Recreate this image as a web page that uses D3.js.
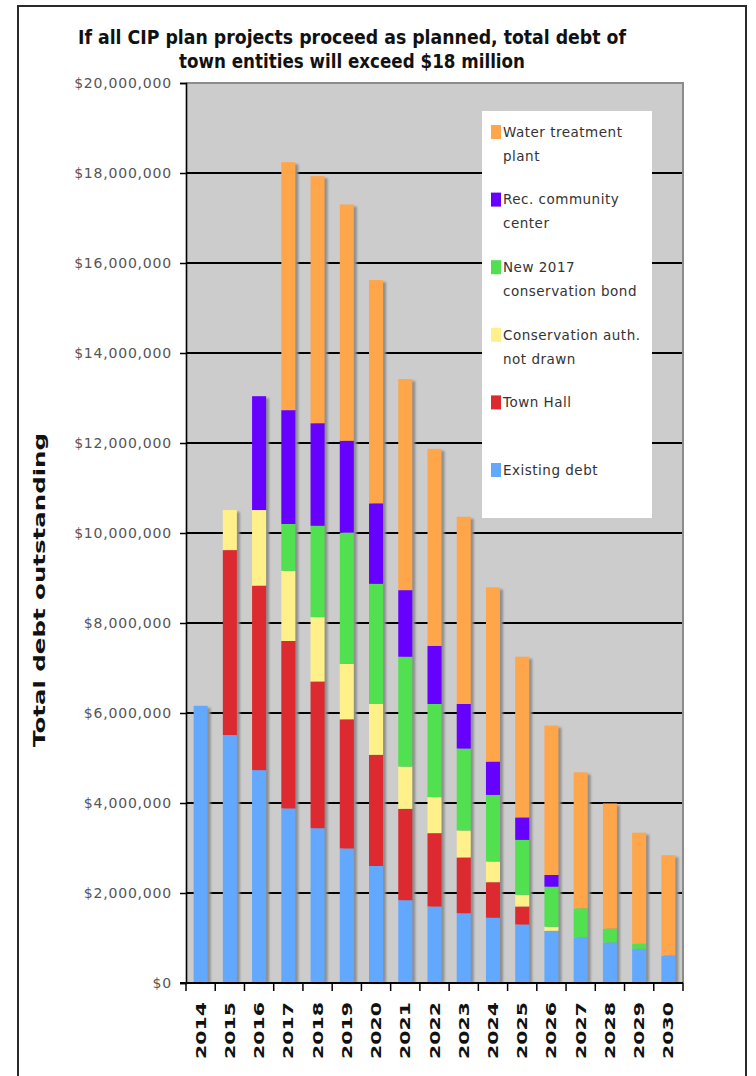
<!DOCTYPE html>
<html>
<head>
<meta charset="utf-8">
<script src="https://cdn.jsdelivr.net/npm/d3@7/dist/d3.min.js"></script>
<style>
  body { margin: 0; background: #fff; }
  svg { display: block; }
</style>
</head>
<body>
<svg id="chart" width="756" height="1076"></svg>
<script>
// Debt outstanding by year, in millions of dollars
const years = [2014, 2015, 2016, 2017, 2018, 2019, 2020, 2021, 2022, 2023, 2024, 2025, 2026, 2027, 2028, 2029, 2030];
const existingDebt      = [6.16, 5.51, 4.73, 3.88, 3.44, 2.99, 2.60, 1.84, 1.70, 1.55, 1.45, 1.30, 1.16, 1.01, 0.90, 0.76, 0.61];
const townHall          = [0, 4.11, 4.10, 3.72, 3.26, 2.87, 2.47, 2.03, 1.63, 1.24, 0.79, 0.40, 0, 0, 0, 0, 0];
const conservationAuth  = [0, 0.89, 1.68, 1.56, 1.43, 1.23, 1.13, 0.94, 0.80, 0.60, 0.46, 0.26, 0.09, 0, 0, 0, 0];
const conservationBond  = [0, 0, 0, 1.04, 2.03, 2.92, 2.67, 2.44, 2.07, 1.82, 1.48, 1.22, 0.89, 0.65, 0.31, 0.11, 0];
const recCenter         = [0, 0, 2.53, 2.53, 2.28, 2.04, 1.79, 1.48, 1.29, 0.99, 0.74, 0.50, 0.26, 0, 0, 0, 0];
const waterPlant        = [0, 0, 0, 5.51, 5.49, 5.25, 4.96, 4.69, 4.38, 4.16, 3.87, 3.57, 3.32, 3.02, 2.78, 2.47, 2.23];

const seriesKeys   = ["existing", "townHall", "consAuth", "consBond", "rec", "water"];
const seriesNames  = ["Existing debt", "Town Hall", "Conservation auth.\nnot drawn", "New 2017\nconservation bond", "Rec. community\ncenter", "Water treatment\nplant"];
const seriesColors = ["#62a8ff", "#dc2a30", "#fff08a", "#50e050", "#6600ff", "#ffa54a"];
const yTicks = [0, 2, 4, 6, 8, 10, 12, 14, 16, 18, 20];
const titleLines = ["If all CIP plan projects proceed as planned, total debt of", "town entities will exceed $18 million"];
const yAxisTitle = "Total debt outstanding";

const rows = years.map((yr, i) => ({
  year: yr,
  existing: existingDebt[i],
  townHall: townHall[i],
  consAuth: conservationAuth[i],
  consBond: conservationBond[i],
  rec: recCenter[i],
  water: waterPlant[i]
}));

const svg = d3.select("#chart");
const plot = { left: 186, right: 683, top: 83, bottom: 983 };

// outer frame
svg.append("path")
  .attr("d", "M18,1076 V6 H746 V1076")
  .attr("fill", "none").attr("stroke", "#2a2a2a").attr("stroke-width", 2);

// title
titleLines.forEach((t, i) => {
  svg.append("text")
    .attr("x", 352).attr("y", 44 + i * 24)
    .attr("text-anchor", "middle")
    .attr("font-family", "'DejaVu Sans', sans-serif")
    .attr("font-weight", "bold").attr("font-size", 20)
    .attr("textLength", i === 0 ? 548 : 346)
    .attr("lengthAdjust", "spacingAndGlyphs")
    .attr("fill", "#111")
    .text(t);
});

const x = d3.scaleBand().domain(years).range([plot.left, plot.right]).padding(0);
const y = d3.scaleLinear().domain([0, 20]).range([plot.bottom, plot.top]);
const step = x.step();
const barW = step * 0.48;

// plot background
svg.append("rect")
  .attr("x", plot.left).attr("y", plot.top)
  .attr("width", plot.right - plot.left).attr("height", plot.bottom - plot.top)
  .attr("fill", "#cccccc");

// gridlines
svg.append("g").selectAll("line")
  .data(yTicks.filter(d => d > 0 && d < 20))
  .join("line")
  .attr("x1", plot.left).attr("x2", plot.right)
  .attr("y1", d => y(d)).attr("y2", d => y(d))
  .attr("stroke", "#000").attr("stroke-width", 2);

// top / right border of plotting area
svg.append("path")
  .attr("d", `M${plot.left},${plot.top} H${plot.right} V${plot.bottom}`)
  .attr("fill", "none").attr("stroke", "#8c8c8c").attr("stroke-width", 2);

const stacked = d3.stack().keys(seriesKeys)(rows);

// soft drop shadow behind each bar
const defs = svg.append("defs");
defs.append("filter").attr("id", "barShadow")
  .attr("x", "-50%").attr("y", "-5%").attr("width", "200%").attr("height", "110%")
  .append("feGaussianBlur").attr("stdDeviation", 1.1);

const totals = rows.map(r => seriesKeys.reduce((s, k) => s + r[k], 0));
svg.append("g").attr("filter", "url(#barShadow)")
  .selectAll("rect")
  .data(rows)
  .join("rect")
  .attr("x", d => x(d.year) + (step - barW) / 2 + 3)
  .attr("y", (d, i) => y(totals[i]) + 2)
  .attr("width", barW)
  .attr("height", (d, i) => y(0) - y(totals[i]) - 2)
  .attr("fill", "#8f8f8f");

// stacked bars
svg.append("g").selectAll("g")
  .data(stacked)
  .join("g")
  .attr("fill", (d, i) => seriesColors[i])
  .selectAll("rect")
  .data(d => d.filter(s => s[1] - s[0] > 0))
  .join("rect")
  .attr("x", d => x(d.data.year) + (step - barW) / 2)
  .attr("y", d => y(d[1]))
  .attr("width", barW)
  .attr("height", d => y(d[0]) - y(d[1]));

// y axis
const yAxis = svg.append("g")
  .attr("transform", `translate(${plot.left},0)`)
  .call(d3.axisLeft(y).tickValues(yTicks).tickSize(6).tickPadding(8)
    .tickFormat(d => "$" + d3.format(",")(d * 1e6)));
yAxis.select(".domain").attr("stroke", "#000").attr("stroke-width", 1.6);
yAxis.selectAll(".tick line").attr("stroke", "#000").attr("stroke-width", 1.5);
yAxis.selectAll(".tick text")
  .attr("font-family", "'DejaVu Sans', sans-serif")
  .attr("font-size", 14).attr("letter-spacing", 0.8)
  .attr("fill", "#555");

// x axis: labels at band centres, ticks at band edges
const xAxis = svg.append("g")
  .attr("transform", `translate(0,${plot.bottom})`)
  .call(d3.axisBottom(x).tickSize(0));
xAxis.select(".domain").remove();
xAxis.selectAll(".tick text")
  .attr("transform", "translate(0,19) rotate(-90)")
  .attr("x", 0).attr("y", 0).attr("dy", "0.36em")
  .attr("text-anchor", "end")
  .attr("font-family", "'DejaVu Sans', sans-serif")
  .attr("font-weight", "bold").attr("font-size", 14)
  .attr("textLength", 57).attr("lengthAdjust", "spacingAndGlyphs")
  .attr("fill", "#111");

svg.append("line")
  .attr("x1", plot.left - 6).attr("x2", plot.right)
  .attr("y1", plot.bottom).attr("y2", plot.bottom)
  .attr("stroke", "#000").attr("stroke-width", 2);
svg.append("g").selectAll("line")
  .data(d3.range(years.length + 1))
  .join("line")
  .attr("x1", i => plot.left + i * step).attr("x2", i => plot.left + i * step)
  .attr("y1", plot.bottom).attr("y2", plot.bottom + 8)
  .attr("stroke", "#000").attr("stroke-width", 1.5);

// y axis title
svg.append("text")
  .attr("transform", "translate(39,590) rotate(-90)")
  .attr("text-anchor", "middle").attr("dy", "0.36em")
  .attr("font-family", "'DejaVu Sans', sans-serif")
  .attr("font-weight", "bold").attr("font-size", 16.5)
  .attr("textLength", 314).attr("lengthAdjust", "spacingAndGlyphs")
  .attr("fill", "#111")
  .text(yAxisTitle);

// legend
const legend = svg.append("g");
legend.append("rect")
  .attr("x", 482).attr("y", 111).attr("width", 170).attr("height", 407)
  .attr("fill", "#fff");
const legendOrder = d3.range(seriesKeys.length).reverse();
legendOrder.forEach((si, j) => {
  const cy = 132 + j * 67.6;
  legend.append("rect")
    .attr("x", 491).attr("y", cy - 7).attr("width", 10).attr("height", 14)
    .attr("fill", seriesColors[si]);
  const t = legend.append("text")
    .attr("font-family", "'DejaVu Sans', sans-serif")
    .attr("font-size", 13.5).attr("letter-spacing", 0.5)
    .attr("fill", "#333");
  seriesNames[si].split("\n").forEach((line, k) => {
    t.append("tspan").attr("x", 503).attr("y", cy + k * 24).attr("dy", "0.36em").text(line);
  });
});
</script>
</body>
</html>
